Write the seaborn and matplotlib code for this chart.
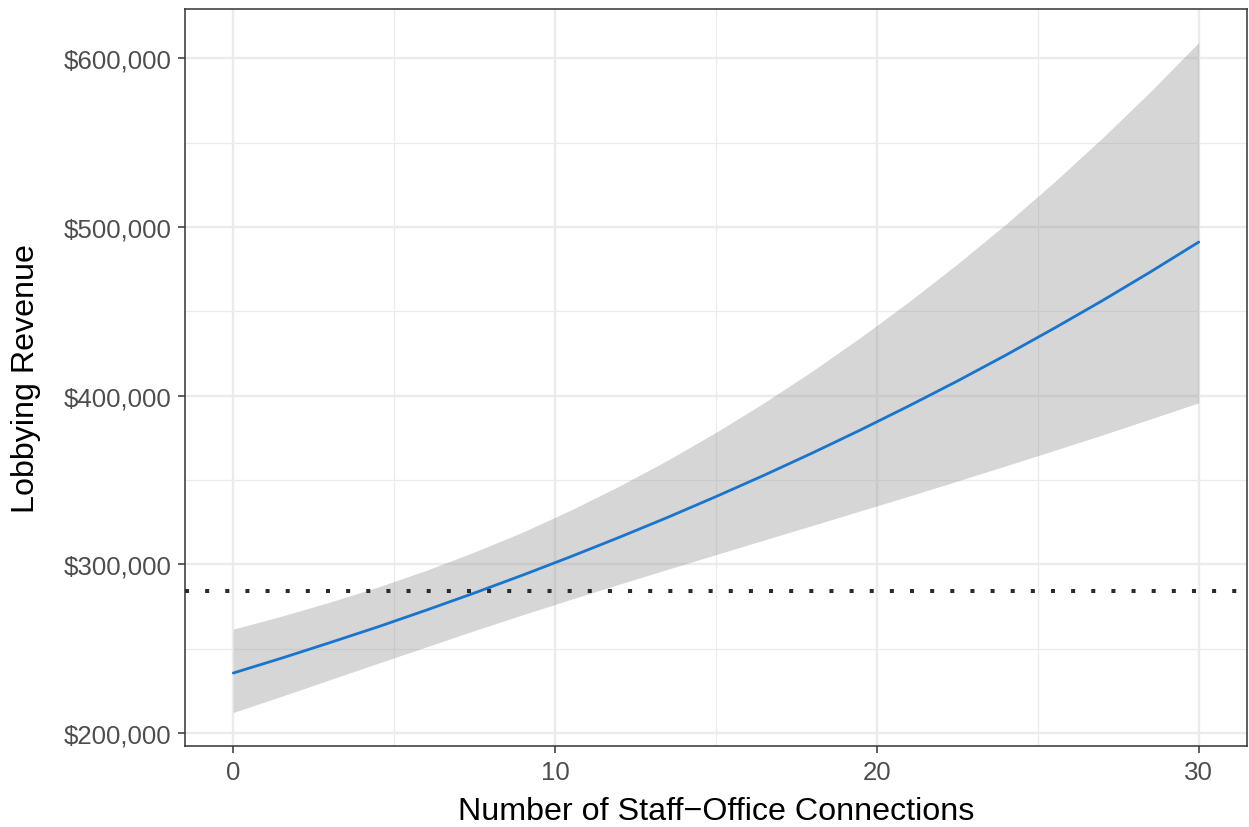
import numpy as np
import pandas as pd
import matplotlib
matplotlib.use("Agg")
import matplotlib.pyplot as plt
import matplotlib.ticker as mticker
import seaborn as sns

# Predicted revenue vs. number of staff-office connections
connections = [0, 1.5, 3, 4.5, 6, 7.5, 9, 10.5, 12, 13.5, 15,
               16.5, 18, 19.5, 21, 22.5, 24, 25.5, 27, 28.5, 30]
fit = [235500, 244300, 253500, 262900, 272800, 283000, 293600, 304600,
       316000, 327800, 340100, 352800, 366000, 379700, 393900, 408600,
       423900, 439800, 456200, 473300, 491000]
ci_low = [212100, 221700, 231500, 241300, 251000, 260700, 270100, 279200,
          288200, 297000, 305700, 314400, 323000, 331700, 340400, 349300,
          358300, 367400, 376600, 386100, 395700]
ci_high = [261500, 269200, 277500, 286500, 296400, 307300, 319100, 332200,
           346400, 361700, 378200, 395800, 414600, 434600, 455700, 478000,
           501500, 526400, 552600, 580200, 609300]
baseline = 284000  # dotted reference line

x_ticks = [0, 10, 20, 30]
y_ticks = [200000, 300000, 400000, 500000, 600000]

df = pd.DataFrame({"conn": connections, "fit": fit, "lo": ci_low, "hi": ci_high})

sns.set_theme(style="white")
plt.rcParams["font.family"] = ["Liberation Sans", "DejaVu Sans"]

fig = plt.figure(figsize=(12.49, 8.28), dpi=100)
ax = fig.add_axes([185 / 1249, 81 / 828, 1062 / 1249, 737 / 828])

# ribbon + fitted line
ax.fill_between(df["conn"], df["lo"], df["hi"], color="#999999", alpha=0.4,
                linewidth=0, zorder=2)
sns.lineplot(data=df, x="conn", y="fit", color="#1874CD", linewidth=2.0,
             ax=ax, zorder=3)
ax.axhline(baseline, color="#2B2B2B", linewidth=2.9, linestyle=(0, (1, 4)),
           dash_capstyle="butt", zorder=4)

# limits with ggplot-style 5% expansion
ymin, ymax = min(ci_low), max(ci_high)
pad = (ymax - ymin) * 0.05
ax.set_ylim(ymin - pad, ymax + pad)
ax.set_xlim(-1.5, 31.5)

ax.set_xticks(x_ticks)
ax.set_yticks(y_ticks)
ax.xaxis.set_minor_locator(mticker.FixedLocator([5, 15, 25]))
ax.yaxis.set_minor_locator(mticker.FixedLocator([250000, 350000, 450000, 550000]))
ax.yaxis.set_major_formatter(mticker.FuncFormatter(lambda v, p: f"${v:,.0f}"))

ax.set_axisbelow(True)
ax.grid(which="major", color="#EBEBEB", linewidth=1.7, zorder=0)
ax.grid(which="minor", color="#EBEBEB", linewidth=0.9, zorder=0)

for side in ax.spines.values():
    side.set_color("#333333")
    side.set_linewidth(1.1)

ax.tick_params(axis="both", which="major", length=5, width=1.1, color="#333333",
               labelsize=18.6, labelcolor="#4D4D4D", direction="out")
ax.tick_params(axis="x", which="major", pad=5, bottom=True)
ax.tick_params(axis="y", which="major", pad=5, left=True)
ax.tick_params(which="minor", length=0)

ax.set_xlabel("Number of Staff\u2212Office Connections", fontsize=23.2, color="black")
ax.set_ylabel("Lobbying Revenue", fontsize=23.2, color="black")
ax.xaxis.set_label_coords(0.5, -(797 - 747) / 737)
ax.yaxis.set_label_coords((41 - 185) / 1062, 0.5)

fig.savefig("out.png", dpi=100)
